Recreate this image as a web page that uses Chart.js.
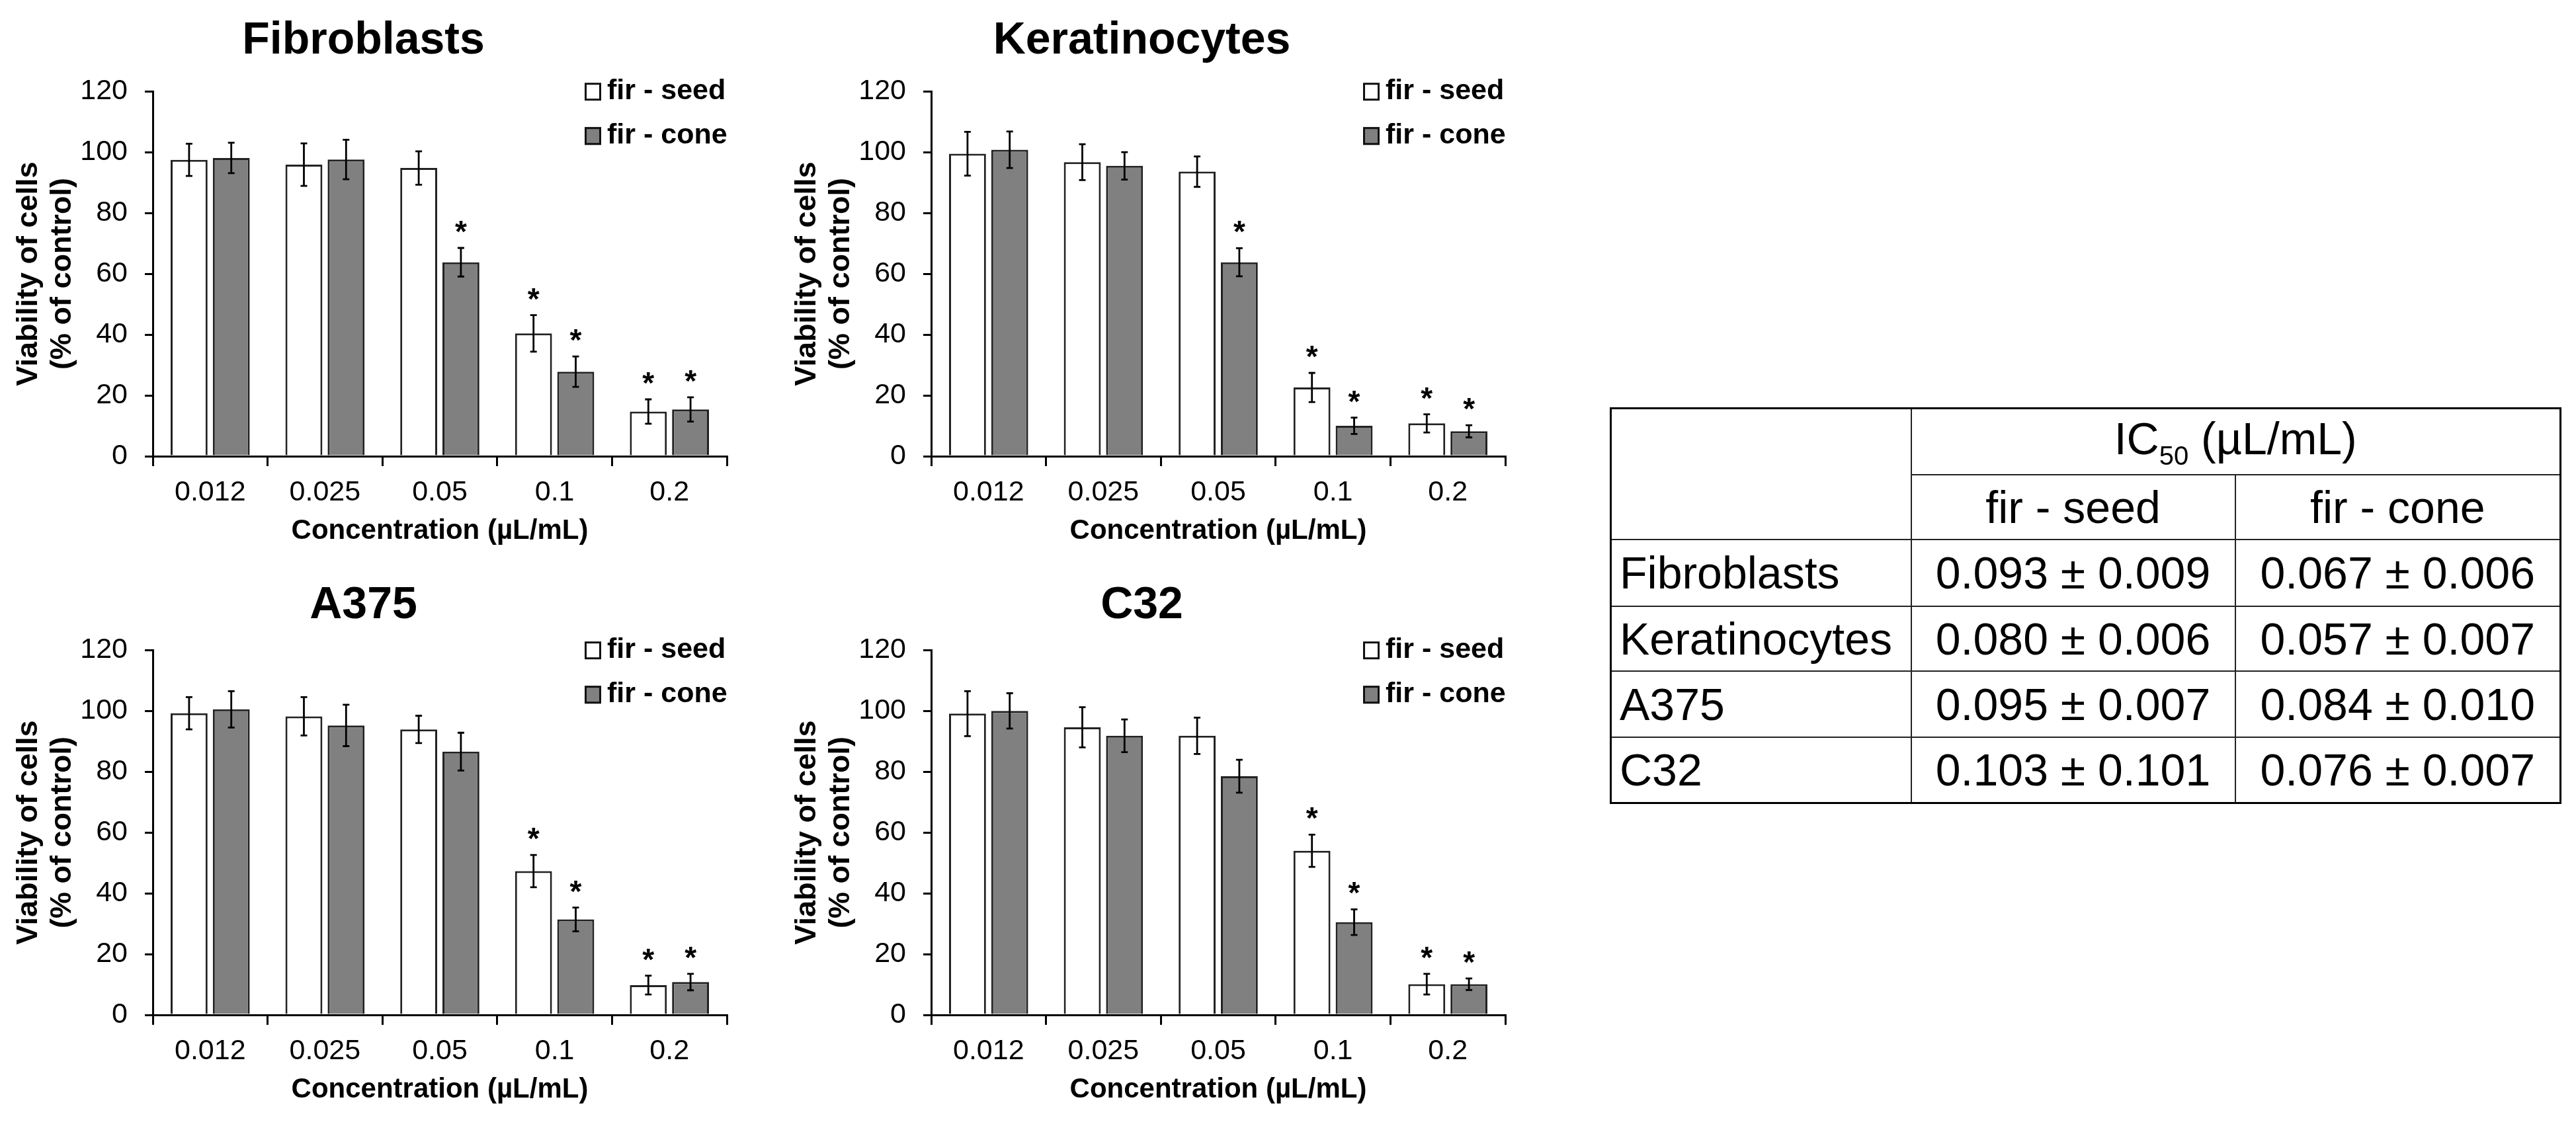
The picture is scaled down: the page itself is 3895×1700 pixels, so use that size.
<!DOCTYPE html>
<html>
<head>
<meta charset="utf-8">
<script src="https://cdn.jsdelivr.net/npm/chart.js@4.4.1/dist/chart.umd.min.js"></script>
<style>
html,body{margin:0;padding:0;background:#fff;}
body{width:3895px;height:1700px;position:relative;overflow:hidden;font-family:"Liberation Sans",Arial,sans-serif;}
.cw{position:absolute;width:1330px;height:840px;}
#ic50{position:absolute;left:2434px;top:616px;border-collapse:collapse;font-size:68px;color:#000;border:3px solid #000;table-layout:fixed;}
#ic50 td{border:2px solid #222;padding:0;white-space:nowrap;vertical-align:middle;}
#ic50 td.c{text-align:center;}
#ic50 td.l{text-align:left;padding-left:12px;}
#ic50 .sub{font-size:40px;vertical-align:-16px;}
</style>
</head>
<body>
<div class="cw" style="left:0px;top:0px;"><canvas id="c1" width="1330" height="840"></canvas></div>
<div class="cw" style="left:1177px;top:0px;"><canvas id="c2" width="1330" height="840"></canvas></div>
<div class="cw" style="left:0px;top:845px;"><canvas id="c3" width="1330" height="840"></canvas></div>
<div class="cw" style="left:1177px;top:845px;"><canvas id="c4" width="1330" height="840"></canvas></div>
<table id="ic50"></table>
<script>
// ---------------- data ----------------
const categories = ['0.012', '0.025', '0.05', '0.1', '0.2'];
const seriesNames = ['fir - seed', 'fir - cone'];
const yTickValues = [0, 20, 40, 60, 80, 100, 120];
const xAxisTitle = 'Concentration (µL/mL)';
const yAxisTitle = ['Viability of cells', '(% of control)'];

const fibSeed    = [97.5, 95.9, 94.8, 40.4, 14.7];
const fibSeedErr = [5.3, 7.0, 5.5, 6.0, 4.0];
const fibSeedSig = [0, 0, 0, 1, 1];
const fibCone    = [98.1, 97.6, 63.8, 27.8, 15.4];
const fibConeErr = [5.0, 6.5, 4.7, 5.0, 4.0];
const fibConeSig = [0, 0, 1, 1, 1];

const kerSeed    = [99.5, 96.7, 93.6, 22.6, 10.8];
const kerSeedErr = [7.2, 5.9, 5.0, 4.8, 3.0];
const kerSeedSig = [0, 0, 0, 1, 1];
const kerCone    = [100.8, 95.5, 63.8, 10.0, 8.2];
const kerConeErr = [6.0, 4.5, 4.6, 2.7, 2.0];
const kerConeSig = [0, 0, 1, 1, 1];

const a375Seed    = [99.2, 98.2, 93.9, 47.3, 9.8];
const a375SeedErr = [5.3, 6.3, 4.5, 5.3, 3.1];
const a375SeedSig = [0, 0, 0, 1, 1];
const a375Cone    = [100.5, 95.2, 86.6, 31.4, 10.8];
const a375ConeErr = [6.0, 6.8, 6.2, 3.9, 2.7];
const a375ConeSig = [0, 0, 0, 1, 1];

const c32Seed    = [99.1, 94.6, 91.8, 54.0, 10.1];
const c32SeedErr = [7.4, 6.6, 6.0, 5.3, 3.4];
const c32SeedSig = [0, 0, 0, 1, 1];
const c32Cone    = [100.0, 91.8, 78.5, 30.5, 10.1];
const c32ConeErr = [5.8, 5.4, 5.4, 4.2, 1.9];
const c32ConeSig = [0, 0, 0, 1, 1];

const tableRowNames = ['Fibroblasts', 'Keratinocytes', 'A375', 'C32'];
const ic50Seed = ['0.093 ± 0.009', '0.080 ± 0.006', '0.095 ± 0.007', '0.103 ± 0.101'];
const ic50Cone = ['0.067 ± 0.006', '0.057 ± 0.007', '0.084 ± 0.010', '0.076 ± 0.007'];

// ---------------- style ----------------
const FONT = '"Liberation Sans", Arial, Helvetica, sans-serif';
Chart.defaults.font.family = FONT;
Chart.defaults.color = '#000';

const errorBarPlugin = {
  id: 'errorBars',
  afterDatasetsDraw(chart) {
    const ctx = chart.ctx, ys = chart.scales.y;
    chart.data.datasets.forEach((ds, i) => {
      const meta = chart.getDatasetMeta(i);
      meta.data.forEach((bar, j) => {
        const v = ds.data[j], e = ds.errors[j];
        const yt = ys.getPixelForValue(v + e), yb = ys.getPixelForValue(v - e);
        ctx.save();
        ctx.strokeStyle = '#000';
        ctx.lineWidth = 2.8;
        ctx.beginPath();
        ctx.moveTo(bar.x, yt); ctx.lineTo(bar.x, yb);
        ctx.moveTo(bar.x - 5, yt); ctx.lineTo(bar.x + 5, yt);
        ctx.moveTo(bar.x - 5, yb); ctx.lineTo(bar.x + 5, yb);
        ctx.stroke();
        if (ds.stars[j]) {
          ctx.fillStyle = '#000';
          ctx.font = 'bold 46px ' + FONT;
          ctx.textAlign = 'center';
          ctx.textBaseline = 'alphabetic';
          ctx.fillText('*', bar.x, yt - 9);
        }
        ctx.restore();
      });
    });
  }
};

const boxLegendPlugin = {
  id: 'boxLegend',
  afterDraw(chart) {
    const ctx = chart.ctx, a = chart.chartArea;
    chart.data.datasets.forEach((d, i) => {
      const cy = a.top + i * 67;
      const bx = a.right - 215;
      ctx.save();
      ctx.fillStyle = d.backgroundColor;
      ctx.fillRect(bx, cy - 13, 25, 27);
      ctx.lineWidth = 3;
      ctx.strokeStyle = '#111';
      ctx.strokeRect(bx + 1.5, cy - 11.5, 22, 24);
      ctx.fillStyle = '#000';
      ctx.font = 'bold 43px ' + FONT;
      ctx.textAlign = 'left';
      ctx.textBaseline = 'middle';
      ctx.fillText(d.label, a.right - 181, cy);
      ctx.restore();
    });
  }
};

function makeChart(id, title, seed, seedErr, seedSig, cone, coneErr, coneSig, tPadTop, tPadBottom) {
  return new Chart(document.getElementById(id), {
    type: 'bar',
    data: {
      labels: categories,
      datasets: [
        { label: seriesNames[0], data: seed, errors: seedErr, stars: seedSig,
          backgroundColor: '#ffffff', borderColor: '#222222', borderWidth: 3,
          barPercentage: 0.875, categoryPercentage: 0.735 },
        { label: seriesNames[1], data: cone, errors: coneErr, stars: coneSig,
          backgroundColor: '#808080', borderColor: '#222222', borderWidth: 3,
          barPercentage: 0.875, categoryPercentage: 0.735 }
      ]
    },
    options: {
      responsive: false,
      maintainAspectRatio: false,
      animation: false,
      devicePixelRatio: 1,
      layout: { padding: { left: 0, right: 231, top: 0, bottom: 0 } },
      plugins: {
        legend: { display: false },
        tooltip: { enabled: false },
        title: {
          display: true, text: title, color: '#000',
          font: { size: 68, weight: 'bold', lineHeight: 1.2 },
          padding: { top: tPadTop, bottom: tPadBottom }
        }
      },
      scales: {
        x: {
          offset: true,
          grid: { display: true, drawOnChartArea: false, drawTicks: true, tickLength: 15, color: '#000', lineWidth: 3, offset: true },
          border: { display: true, color: '#000', width: 3 },
          ticks: { color: '#000', font: { size: 43 }, padding: 14, maxRotation: 0 },
          title: { display: true, text: xAxisTitle, color: '#000', font: { size: 42, weight: 'bold', lineHeight: 1.2 }, padding: { top: 0, bottom: 11 } },
          afterFit: s => { s.height = 150; }
        },
        y: {
          min: 0, max: 120,
          afterBuildTicks: s => { s.ticks = yTickValues.map(v => ({ value: v })); },
          grid: { display: true, drawOnChartArea: false, drawTicks: true, tickLength: 12, color: '#000', lineWidth: 3 },
          border: { display: true, color: '#000', width: 3 },
          ticks: { color: '#000', font: { size: 43 }, padding: 26 },
          title: { display: true, text: yAxisTitle, color: '#000', font: { size: 45, weight: 'bold', lineHeight: 51 / 45 }, padding: { top: 18.5, bottom: 0 } },
          afterFit: s => { s.width = 231; }
        }
      }
    },
    plugins: [errorBarPlugin, boxLegendPlugin]
  });
}

makeChart('c1', 'Fibroblasts', fibSeed, fibSeedErr, fibSeedSig, fibCone, fibConeErr, fibConeSig, 21.2, 35.4);
makeChart('c2', 'Keratinocytes', kerSeed, kerSeedErr, kerSeedSig, kerCone, kerConeErr, kerConeSig, 21.2, 35.4);
makeChart('c3', 'A375', a375Seed, a375SeedErr, a375SeedSig, a375Cone, a375ConeErr, a375ConeSig, 30.2, 26.4);
makeChart('c4', 'C32', c32Seed, c32SeedErr, c32SeedSig, c32Cone, c32ConeErr, c32ConeSig, 30.2, 26.4);

// ---------------- table ----------------
(function buildTable() {
  const t = document.getElementById('ic50');
  let html = '<colgroup><col style="width:454px"><col style="width:490px"><col style="width:492px"></colgroup>';
  html += '<tr style="height:100px"><td rowspan="2"></td><td class="c" colspan="2">IC<span class="sub">50</span> (µL/mL)</td></tr>';
  html += '<tr style="height:98px"><td class="c">' + seriesNames[0] + '</td><td class="c">' + seriesNames[1] + '</td></tr>';
  const rh = [101, 98, 100, 100];
  tableRowNames.forEach((n, i) => {
    html += '<tr style="height:' + rh[i] + 'px"><td class="l">' + n + '</td><td class="c">' + ic50Seed[i] + '</td><td class="c">' + ic50Cone[i] + '</td></tr>';
  });
  t.innerHTML = html;
})();
</script>
</body>
</html>
